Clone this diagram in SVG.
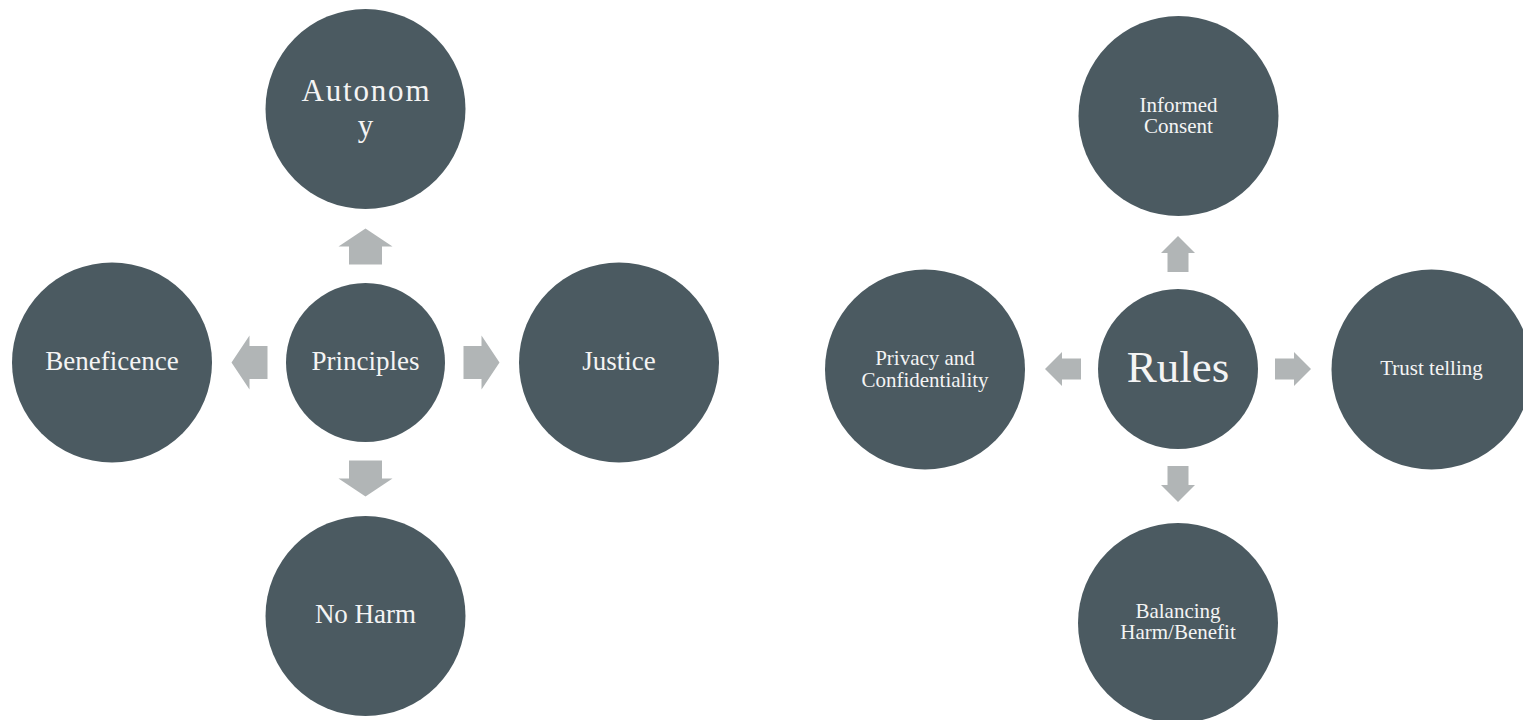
<svg xmlns="http://www.w3.org/2000/svg" xmlns:xlink="http://www.w3.org/1999/xlink" width="1523" height="720" viewBox="0 0 1523 720">
<style>
.node{fill:#4B5A61}
.arrow{fill:#B1B5B6}
text{font-family:"Liberation Serif","Times New Roman",serif;fill:#F4F4F4;text-anchor:middle}
.t26{font-size:27px}
.t32{font-size:31px}
.t45{font-size:45px}
.t21{font-size:21px}
</style>
<defs>
<path id="bigArrow" d="M98,-16.5 H116 V-27 L134,0 L116,27 V16.5 H98 Z"/>
<path id="smallArrow" d="M97,-10.5 H116 V-17 L133,0 L116,17 V10.5 H97 Z"/>
</defs>
<rect width="1523" height="720" fill="#FFFFFF"/>
<g id="connectors">
<use xlink:href="#bigArrow" class="arrow" transform="translate(365.5,362.5) rotate(-90)"/>
<use xlink:href="#bigArrow" class="arrow" transform="translate(365.5,362.5) rotate(180)"/>
<use xlink:href="#bigArrow" class="arrow" transform="translate(365.5,362.5)"/>
<use xlink:href="#bigArrow" class="arrow" transform="translate(365.5,362.5) rotate(90)"/>
<use xlink:href="#smallArrow" class="arrow" transform="translate(1178,369) rotate(-90)"/>
<use xlink:href="#smallArrow" class="arrow" transform="translate(1178,369) rotate(180)"/>
<use xlink:href="#smallArrow" class="arrow" transform="translate(1178,369)"/>
<use xlink:href="#smallArrow" class="arrow" transform="translate(1178,369) rotate(90)"/>
</g>
<g id="principles">
<circle class="node" cx="365.5" cy="362.5" r="79.5"/>
<text class="t26" x="365.5" y="370">Principles</text>
</g>
<g id="autonomy">
<circle class="node" cx="365.5" cy="109" r="100"/>
<text class="t32" x="365.5" y="101" textLength="128" lengthAdjust="spacing">Autonom</text>
<text class="t32" x="365.5" y="136">y</text>
</g>
<g id="beneficence">
<circle class="node" cx="112" cy="362.5" r="100"/>
<text class="t26" x="112" y="370">Beneficence</text>
</g>
<g id="justice">
<circle class="node" cx="619" cy="362.5" r="100"/>
<text class="t26" x="619" y="370">Justice</text>
</g>
<g id="noharm">
<circle class="node" cx="365.5" cy="616" r="100"/>
<text class="t26" x="365.5" y="623">No Harm</text>
</g>
<g id="rules">
<circle class="node" cx="1178" cy="369" r="80"/>
<text class="t45" x="1178" y="382">Rules</text>
</g>
<g id="informed-consent">
<circle class="node" cx="1178.5" cy="116" r="100"/>
<text class="t21" x="1178.5" y="112">Informed</text>
<text class="t21" x="1178.5" y="133">Consent</text>
</g>
<g id="privacy">
<circle class="node" cx="925" cy="369.5" r="100"/>
<text class="t21" x="925" y="365">Privacy and</text>
<text class="t21" x="925" y="387">Confidentiality</text>
</g>
<g id="trust-telling">
<circle class="node" cx="1431.5" cy="369.5" r="100"/>
<text class="t21" x="1431.5" y="375">Trust telling</text>
</g>
<g id="balancing">
<circle class="node" cx="1178" cy="623" r="100"/>
<text class="t21" x="1178" y="618">Balancing</text>
<text class="t21" x="1178" y="639">Harm/Benefit</text>
</g>
</svg>
